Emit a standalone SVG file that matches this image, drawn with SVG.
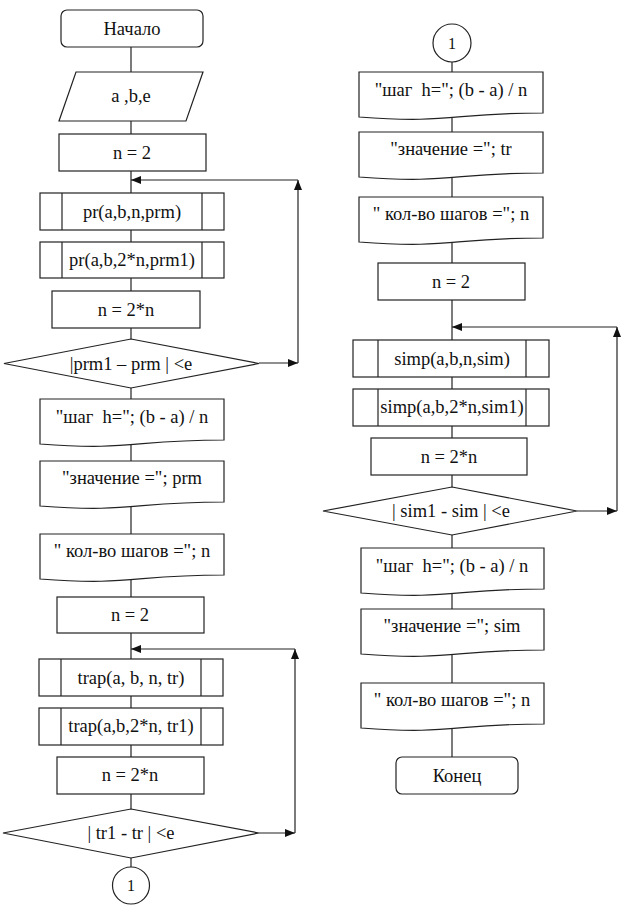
<svg xmlns="http://www.w3.org/2000/svg" width="623" height="910" viewBox="0 0 623 910" font-family="'Liberation Serif', 'Times New Roman', serif">
<defs>
<style>
.s{fill:#fff;stroke:#222;stroke-width:1.2}
.c{fill:none;stroke:#222;stroke-width:1.2}
text{font-family:'Liberation Serif','Times New Roman',serif;fill:#111;text-anchor:middle}
.t{font-size:18.5px;white-space:pre}
.n{font-size:16px}
</style>
<marker id="ah" viewBox="0 0 10 8" refX="10" refY="4" markerWidth="10" markerHeight="8" markerUnits="userSpaceOnUse" orient="auto">
<path d="M0,0 L10,4 L0,8 Z" fill="#111"/>
</marker>
</defs>
<rect width="623" height="910" fill="#fff"/>
<g id="connectors">
<line class="c" x1="131" y1="47" x2="131" y2="867"/>
<line class="c" x1="452" y1="62" x2="452" y2="757"/>
<line class="c" x1="259" y1="363" x2="298" y2="363" marker-end="url(#ah)"/>
<line class="c" x1="298" y1="363" x2="298" y2="180" marker-end="url(#ah)"/>
<line class="c" x1="298" y1="180" x2="131" y2="180" marker-end="url(#ah)"/>
<line class="c" x1="259" y1="833" x2="295" y2="833" marker-end="url(#ah)"/>
<line class="c" x1="295" y1="833" x2="295" y2="649" marker-end="url(#ah)"/>
<line class="c" x1="295" y1="649" x2="131" y2="649" marker-end="url(#ah)"/>
<line class="c" x1="577" y1="511" x2="617" y2="511" marker-end="url(#ah)"/>
<line class="c" x1="617" y1="511" x2="617" y2="327" marker-end="url(#ah)"/>
<line class="c" x1="617" y1="327" x2="452" y2="327" marker-end="url(#ah)"/>
</g>
<g id="start">
<rect class="s" x="61" y="10" width="142" height="37" rx="6"/>
<text class="t" x="132" y="35" font-family="Liberation Serif">Начало</text>
</g>
<g id="input">
<polygon class="s" points="76,72 203,72 186,121 59,121"/>
<text class="t" x="131" y="102">a ,b,e</text>
</g>
<g id="n2a">
<rect class="s" x="59" y="134" width="147" height="37"/>
<text class="t" x="132" y="158.5">n = 2</text>
</g>
<g id="pr1">
<rect class="s" x="40" y="193" width="184" height="37"/>
<line class="c" x1="62" y1="193" x2="62" y2="230"/>
<line class="c" x1="202" y1="193" x2="202" y2="230"/>
<text class="t" x="132" y="217.5">pr(a,b,n,prm)</text>
</g>
<g id="pr2">
<rect class="s" x="40" y="242" width="184" height="36"/>
<line class="c" x1="62" y1="242" x2="62" y2="278"/>
<line class="c" x1="202" y1="242" x2="202" y2="278"/>
<text class="t" x="132" y="266">pr(a,b,2*n,prm1)</text>
</g>
<g id="n2na">
<rect class="s" x="52" y="291" width="148" height="37"/>
<text class="t" x="126" y="315.5">n = 2*n</text>
</g>
<g id="cond1">
<polygon class="s" points="131,339 259,363.5 131,388 4,363.5"/>
<text class="t" x="131" y="369.5">|prm1 – prm | &lt;e</text>
</g>
<g id="outh1">
<path class="s" d="M40,399 H224 V440 C132,440 132,451 40,444 Z"/>
<text class="t" x="132" y="423">"шаг  h="; (b - a) / n</text>
</g>
<g id="outv1">
<path class="s" d="M40,461 H224 V502 C132,502 132,513 40,506 Z"/>
<text class="t" x="132" y="484">"значение ="; prm</text>
</g>
<g id="outk1">
<path class="s" d="M40,534 H224 V575 C132,575 132,586 40,579 Z"/>
<text class="t" x="132" y="557">" кол-во шагов ="; n</text>
</g>
<g id="n2b">
<rect class="s" x="57" y="597" width="147" height="36"/>
<text class="t" x="130" y="621">n = 2</text>
</g>
<g id="trap1">
<rect class="s" x="39" y="659" width="184" height="37"/>
<line class="c" x1="61" y1="659" x2="61" y2="696"/>
<line class="c" x1="201" y1="659" x2="201" y2="696"/>
<text class="t" x="131" y="683.5">trap(a, b, n, tr)</text>
</g>
<g id="trap2">
<rect class="s" x="39" y="708" width="184" height="37"/>
<line class="c" x1="61" y1="708" x2="61" y2="745"/>
<line class="c" x1="201" y1="708" x2="201" y2="745"/>
<text class="t" x="131" y="732">trap(a,b,2*n, tr1)</text>
</g>
<g id="n2nb">
<rect class="s" x="57" y="757" width="147" height="37"/>
<text class="t" x="130" y="781">n = 2*n</text>
</g>
<g id="cond2">
<polygon class="s" points="131,809 259,833 131,858 3,833"/>
<text class="t" x="131" y="839">| tr1 - tr | &lt;e</text>
</g>
<g id="conn1a">
<circle class="s" cx="131" cy="885.5" r="18.5"/>
<text class="n" x="131" y="891">1</text>
</g>
<g id="conn1b">
<circle class="s" cx="452" cy="43" r="19"/>
<text class="n" x="452" y="49">1</text>
</g>
<g id="outh2">
<path class="s" d="M359,72 H543 V113 C451,113 451,124 359,117 Z"/>
<text class="t" x="451" y="96">"шаг  h="; (b - a) / n</text>
</g>
<g id="outv2">
<path class="s" d="M359,132 H543 V173 C451,173 451,184 359,177 Z"/>
<text class="t" x="451" y="155">"значение ="; tr</text>
</g>
<g id="outk2">
<path class="s" d="M359,197 H543 V238 C451,238 451,249 359,242 Z"/>
<text class="t" x="451" y="220">" кол-во шагов ="; n</text>
</g>
<g id="n2c">
<rect class="s" x="378" y="263" width="147" height="37"/>
<text class="t" x="451" y="287.5">n = 2</text>
</g>
<g id="simp1">
<rect class="s" x="353" y="340" width="196" height="37"/>
<line class="c" x1="378" y1="340" x2="378" y2="377"/>
<line class="c" x1="526" y1="340" x2="526" y2="377"/>
<text class="t" x="452" y="364.5">simp(a,b,n,sim)</text>
</g>
<g id="simp2">
<rect class="s" x="353" y="389" width="196" height="37"/>
<line class="c" x1="378" y1="389" x2="378" y2="426"/>
<line class="c" x1="526" y1="389" x2="526" y2="426"/>
<text class="t" x="452" y="413">simp(a,b,2*n,sim1)</text>
</g>
<g id="n2nc">
<rect class="s" x="371" y="438" width="156" height="37"/>
<text class="t" x="449" y="462.5">n = 2*n</text>
</g>
<g id="cond3">
<polygon class="s" points="452,487 577,511 452,535 323,511"/>
<text class="t" x="451" y="517">| sim1 - sim | &lt;e</text>
</g>
<g id="outh3">
<path class="s" d="M361,548 H544 V589 C452,589 452,600 361,593 Z"/>
<text class="t" x="452" y="572">"шаг  h="; (b - a) / n</text>
</g>
<g id="outv3">
<path class="s" d="M361,609 H544 V650 C452,650 452,661 361,654 Z"/>
<text class="t" x="452" y="632">"значение ="; sim</text>
</g>
<g id="outk3">
<path class="s" d="M361,683 H544 V724 C452,724 452,735 361,728 Z"/>
<text class="t" x="452" y="706">" кол-во шагов ="; n</text>
</g>
<g id="end">
<rect class="s" x="396" y="757" width="122" height="37" rx="6"/>
<text class="t" x="457" y="781.5">Конец</text>
</g>
</svg>
